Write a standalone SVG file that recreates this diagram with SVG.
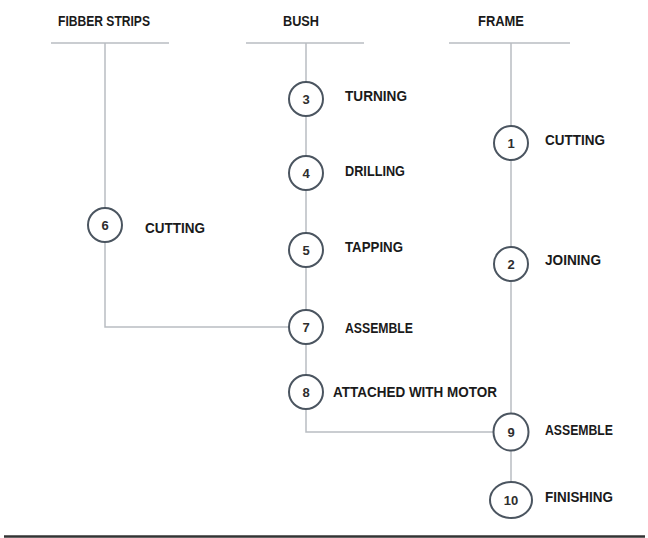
<svg xmlns="http://www.w3.org/2000/svg" width="648" height="538" viewBox="0 0 648 538">
<style>
.hd{font-family:"Liberation Sans",Arial,sans-serif;font-weight:bold;font-size:14px;fill:#1a1a1a;}
.lb{font-family:"Liberation Sans",Arial,sans-serif;font-weight:bold;font-size:14px;fill:#1a1a1a;}
.num{font-family:"Liberation Sans",Arial,sans-serif;font-weight:bold;font-size:13px;fill:#2e2e2e;text-anchor:middle;}
.ln{stroke:#b9bdc2;stroke-width:1.5;fill:none;}
.nd{fill:#fff;stroke:#4b5560;stroke-width:2;}
</style>
<rect width="648" height="538" fill="#fff"/>
<g id="headers">
<text class="hd" x="58" y="26" textLength="92" lengthAdjust="spacingAndGlyphs">FIBBER STRIPS</text>
<text class="hd" x="283" y="26" textLength="36" lengthAdjust="spacingAndGlyphs">BUSH</text>
<text class="hd" x="478" y="26" textLength="46" lengthAdjust="spacingAndGlyphs">FRAME</text>
</g>
<g id="connectors">
<path class="ln" d="M51 43H169M105 43V327H290"/>
<path class="ln" d="M246 43H364M306 43V432H495"/>
<path class="ln" d="M449 43H570M511 43V482"/>
</g>
<g id="n3"><circle class="nd" cx="306" cy="99" r="17"/><text class="num" x="306" y="104">3</text><text class="lb" x="345" y="101" textLength="62" lengthAdjust="spacingAndGlyphs">TURNING</text></g>
<g id="n4"><circle class="nd" cx="306" cy="173" r="17"/><text class="num" x="306" y="178">4</text><text class="lb" x="345" y="176" textLength="60" lengthAdjust="spacingAndGlyphs">DRILLING</text></g>
<g id="n5"><circle class="nd" cx="306" cy="250" r="17"/><text class="num" x="306" y="255">5</text><text class="lb" x="345" y="252" textLength="58" lengthAdjust="spacingAndGlyphs">TAPPING</text></g>
<g id="n7"><circle class="nd" cx="306" cy="327" r="17"/><text class="num" x="306" y="332">7</text><text class="lb" x="345" y="333" textLength="68" lengthAdjust="spacingAndGlyphs">ASSEMBLE</text></g>
<g id="n8"><circle class="nd" cx="306" cy="392" r="17"/><text class="num" x="306" y="397">8</text><text class="lb" x="333" y="397" textLength="164" lengthAdjust="spacingAndGlyphs">ATTACHED WITH MOTOR</text></g>
<g id="n6"><circle class="nd" cx="105" cy="225" r="17"/><text class="num" x="105" y="230">6</text><text class="lb" x="145" y="233" textLength="60" lengthAdjust="spacingAndGlyphs">CUTTING</text></g>
<g id="n1"><circle class="nd" cx="511" cy="143" r="17"/><text class="num" x="511" y="148">1</text><text class="lb" x="545" y="145" textLength="60" lengthAdjust="spacingAndGlyphs">CUTTING</text></g>
<g id="n2"><circle class="nd" cx="511" cy="264" r="17"/><text class="num" x="511" y="269">2</text><text class="lb" x="545" y="265" textLength="56" lengthAdjust="spacingAndGlyphs">JOINING</text></g>
<g id="n9"><ellipse class="nd" cx="511" cy="432" rx="17.5" ry="18.5"/><text class="num" x="511" y="437">9</text><text class="lb" x="545" y="435" textLength="68" lengthAdjust="spacingAndGlyphs">ASSEMBLE</text></g>
<g id="n10"><ellipse class="nd" cx="511" cy="500" rx="21" ry="18"/><text class="num" x="511" y="505">10</text><text class="lb" x="545" y="502" textLength="68" lengthAdjust="spacingAndGlyphs">FINISHING</text></g>
<line x1="4" y1="536.5" x2="645" y2="536.5" stroke="#333" stroke-width="2.5"/>
</svg>
